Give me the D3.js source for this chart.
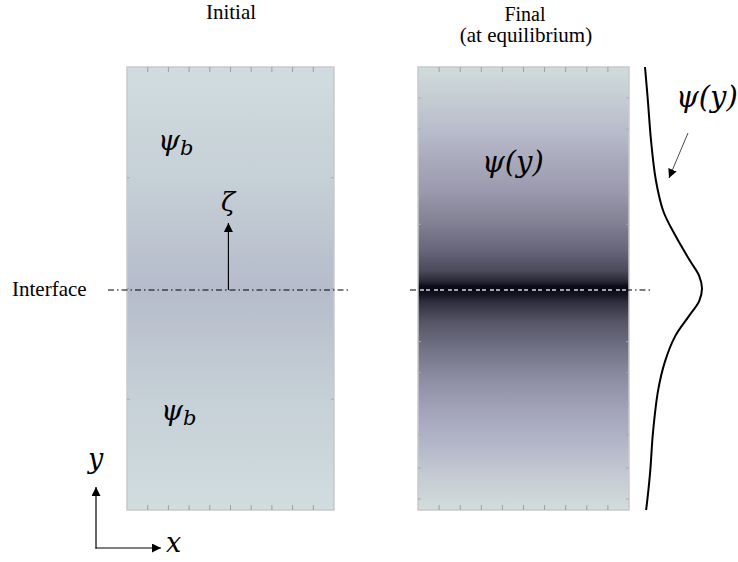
<!DOCTYPE html>
<html><head><meta charset="utf-8">
<script src="https://cdn.jsdelivr.net/npm/d3@7"></script>
<style>body{margin:0;background:#fff}svg{display:block}</style>
</head><body>
<svg id="c" width="738" height="562"></svg>
<script>
// ---- data ----
const panelTitles = ["Initial", "Final", "(at equilibrium)"];
const xTickFrac = [0.1,0.2,0.3,0.4,0.5,0.6,0.7,0.8,0.9];
const leftSideTicks = [-5, 0, 5];
const rightSideTicks = [-9.5,-8.1,-6.6,-5.2,-3.8,-2.4,2.9,4.3,5.8,7.2,8.6];
// initial panel shading (position, colour)
const initPos = [10, 5, 0, -5, -10];
const initCol = ["#d0dcdf", "#c6d0d7", "#b6bccb", "#c6d0d7", "#d1dddf"];
// final panel shading (position, colour)
const finPos = [10, 8.5, 7.1, 5.8, 4.4, 3.0, 1.7, 0.8, 0.35, 0.1, -0.1, -0.3, -0.6, -1.5, -2.9, -4.2, -5.6, -7.0, -8.3, -10];
const finCol = ["#d0dcdc","#c4ccd2","#b8bccb","#aaaabd","#9a99ad","#838294","#66657a","#4a4a5a","#2a2a38","#0a0a18","#0a0a18","#151525","#2e2e3e","#555566","#76768a","#8f8fa6","#a4a4bb","#b3b6c8","#c3c9d2","#d2dcdc"];
// concentration profile psi(y)
const profY = [10, 8.5, 6.7, 4.9, 3.5, 2.4, 1.25, 0.57, 0, -0.57, -1.25, -2.15, -3.3, -4.6, -6.5, -8.3, -10];
const profPsi = [0, 0.05, 0.105, 0.19, 0.32, 0.53, 0.79, 0.95, 1.0, 0.95, 0.77, 0.53, 0.35, 0.23, 0.14, 0.09, 0.02];

// ---- scales ----
const svg = d3.select("#c");
const y = d3.scaleLinear().domain([-10, 10]).range([510, 67]);
const xL = d3.scaleLinear().domain([0, 1]).range([127, 334]);
const xR = d3.scaleLinear().domain([0, 1]).range([418, 629]);
const xP = d3.scaleLinear().domain([0, 1]).range([645, 702]);

const defs = svg.append("defs");
function grad(id, pos, col) {
  const g = defs.append("linearGradient").attr("id", id)
    .attr("x1", 0).attr("x2", 0).attr("y1", 0).attr("y2", 1);
  const off = d3.scaleLinear().domain([10, -10]).range([0, 1]);
  pos.forEach((p, i) => g.append("stop").attr("offset", off(p)).attr("stop-color", col[i]));
}
grad("gI", initPos, initCol);
grad("gF", finPos, finCol);
const mk = defs.append("marker").attr("id", "ah").attr("viewBox", "0 0 10 10")
  .attr("refX", 10).attr("refY", 5).attr("markerWidth", 9).attr("markerHeight", 9)
  .attr("markerUnits", "userSpaceOnUse").attr("orient", "auto");
mk.append("path").attr("d", "M0,0L10,5L0,10Z").attr("fill", "#000");

function panel(x, gid, sideTicks) {
  const g = svg.append("g");
  g.append("rect").attr("x", x(0)).attr("y", y(10)).attr("width", x(1) - x(0))
    .attr("height", y(-10) - y(10)).attr("fill", `url(#${gid})`)
    .attr("stroke", "#c9c9c9").attr("stroke-width", 1.5);
  g.selectAll(".tt").data(xTickFrac).join("line")
    .attr("x1", d => x(d)).attr("x2", d => x(d))
    .attr("y1", y(10)).attr("y2", y(10) + 5).attr("stroke", "#9aa0a4").attr("stroke-width", 1);
  g.selectAll(".tb").data(xTickFrac).join("line")
    .attr("x1", d => x(d)).attr("x2", d => x(d))
    .attr("y1", y(-10)).attr("y2", y(-10) - 5).attr("stroke", "#9aa0a4").attr("stroke-width", 1);
  g.selectAll(".tl").data(sideTicks).join("line")
    .attr("x1", x(0)).attr("x2", x(0) + 3).attr("y1", d => y(d)).attr("y2", d => y(d))
    .attr("stroke", "#a8acb0");
  g.selectAll(".tr").data(sideTicks).join("line")
    .attr("x1", x(1)).attr("x2", x(1) - 3).attr("y1", d => y(d)).attr("y2", d => y(d))
    .attr("stroke", "#a8acb0");
}
panel(xL, "gI", leftSideTicks);
panel(xR, "gF", rightSideTicks);

const serif = "'Liberation Serif','Times New Roman',serif";
const mathF = "'DejaVu Serif','Liberation Serif',serif";
svg.append("text").attr("x", 231).attr("y", 19).attr("text-anchor", "middle")
  .attr("font-family", serif).attr("font-size", 21).text(panelTitles[0]);
const tF = svg.append("text").attr("text-anchor", "middle")
  .attr("font-family", serif).attr("font-size", 21);
tF.append("tspan").attr("x", 525).attr("y", 21).attr("font-size", 20).text(panelTitles[1]);
tF.append("tspan").attr("x", 526).attr("y", 42).text(panelTitles[2]);
svg.append("text").attr("x", 12).attr("y", 296)
  .attr("font-family", serif).attr("font-size", 21).text("Interface");

// interface lines
svg.append("line").attr("x1", 108).attr("x2", 350).attr("y1", y(0) + 1.5).attr("y2", y(0) + 1.5)
  .attr("stroke", "#000").attr("stroke-width", 1.2).attr("stroke-dasharray", "6,3,1.5,3");
svg.append("line").attr("x1", 410).attr("x2", 652).attr("y1", y(0) + 1.5).attr("y2", y(0) + 1.5)
  .attr("stroke", "#000").attr("stroke-width", 1.2).attr("stroke-dasharray", "6,3,1.5,3");
svg.append("line").attr("x1", xR(0) + 2).attr("x2", xR(1) - 2).attr("y1", y(0) + 1.5).attr("y2", y(0) + 1.5)
  .attr("stroke", "#d8d8d8").attr("stroke-width", 1.5).attr("stroke-dasharray", "4,2,4,4");

// zeta arrow
svg.append("line").attr("x1", xL(0.49)).attr("x2", xL(0.49)).attr("y1", y(0) + 1.5).attr("y2", 223)
  .attr("stroke", "#000").attr("stroke-width", 1.2).attr("marker-end", "url(#ah)");

// math labels
function mlabel(x0, y0, main, sub, size) {
  const t = svg.append("text").attr("x", x0).attr("y", y0)
    .attr("font-family", mathF).attr("font-style", "italic").attr("font-size", size);
  t.append("tspan").text(main);
  if (sub) t.append("tspan").attr("font-size", size * 0.75).attr("dy", 5).text(sub);
}
mlabel(158, 150, "ψ", "b", 28);
mlabel(161, 420, "ψ", "b", 28);
mlabel(221, 211, "ζ", null, 26);
mlabel(482, 172, "ψ(y)", null, 29);
mlabel(676, 107, "ψ(y)", null, 29);
mlabel(88, 468, "y", null, 27);
mlabel(166, 552, "x", null, 27);

// axes arrows
svg.append("line").attr("x1", 96).attr("x2", 96).attr("y1", 548.5).attr("y2", 487)
  .attr("stroke", "#000").attr("stroke-width", 1.2).attr("marker-end", "url(#ah)");
svg.append("line").attr("x1", 95.5).attr("x2", 161).attr("y1", 548).attr("y2", 548)
  .attr("stroke", "#000").attr("stroke-width", 1.2).attr("marker-end", "url(#ah)");

// profile curve
const prof = profY.map((d, i) => [profPsi[i], d]);
svg.append("path").datum(prof)
  .attr("d", d3.line().x(d => xP(d[0])).y(d => y(d[1])).curve(d3.curveCatmullRom))
  .attr("fill", "none").attr("stroke", "#000").attr("stroke-width", 2);
// pointer arrow
svg.append("line").attr("x1", 688).attr("x2", 669).attr("y1", 133).attr("y2", 178)
  .attr("stroke", "#333").attr("stroke-width", 0.9).attr("marker-end", "url(#ah)");
</script>
</body></html>
